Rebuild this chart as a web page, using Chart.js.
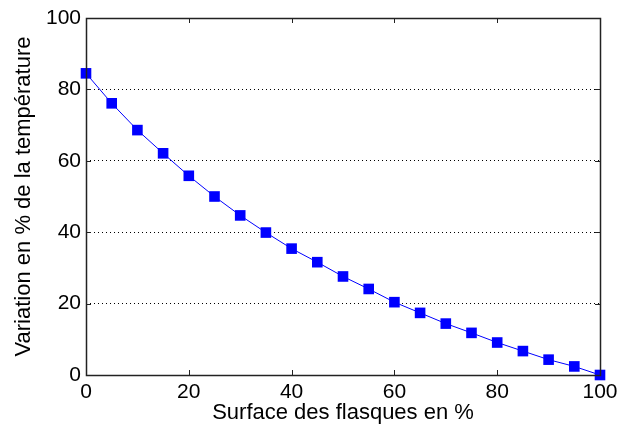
<!DOCTYPE html>
<html lang="fr">
<head>
    <meta charset="UTF-8">
    <title>Variation de la température</title>
    <script src="https://cdn.jsdelivr.net/npm/chart.js"></script>
    <style>
        html, body { margin: 0; padding: 0; background: #fff; }
        .grafico { width: 630px; height: 430px; }
    </style>
</head>
<body>
    <div class="grafico">
        <canvas id="courbe"></canvas>
    </div>

<script>

    // donnees
    var surface = [0, 5, 10, 15, 20, 25, 30, 35, 40, 45, 50, 55, 60, 65, 70, 75, 80, 85, 90, 95, 100];
    var variation = [84.5, 76.1, 68.6, 62.1, 55.8, 50.0, 44.7, 39.9, 35.4, 31.6, 27.6, 24.1, 20.4, 17.4, 14.4, 11.8, 9.1, 6.7, 4.3, 2.4, 0];
    var ticksX = [0, 20, 40, 60, 80, 100];
    var ticksY = [0, 20, 40, 60, 80, 100];

    var points = [];
    for (var i = 0; i < surface.length; i++) {
        points.push({ x: surface[i], y: variation[i] });
    }

    // cadre + petites graduations vers l'interieur (style matlab)
    var cadre = {
        id: 'cadre',
        afterDraw: function (chart) {
            var ctx = chart.ctx;
            var a = chart.chartArea;
            var sx = chart.scales.x;
            var sy = chart.scales.y;
            ctx.save();
            ctx.strokeStyle = '#222';
            ctx.lineWidth = 1;
            ctx.beginPath();
            for (var i = 0; i < ticksX.length; i++) {
                var px = Math.round(sx.getPixelForValue(ticksX[i])) + 0.5;
                ctx.moveTo(px, a.bottom); ctx.lineTo(px, a.bottom - 5);
                ctx.moveTo(px, a.top); ctx.lineTo(px, a.top + 5);
            }
            for (var j = 0; j < ticksY.length; j++) {
                var py = Math.round(sy.getPixelForValue(ticksY[j])) + 0.5;
                ctx.moveTo(a.left, py); ctx.lineTo(a.left + 5, py);
                ctx.moveTo(a.right, py); ctx.lineTo(a.right - 5, py);
            }
            ctx.stroke();
            ctx.lineWidth = 1.5;
            ctx.strokeRect(Math.round(a.left) + 0.5, Math.round(a.top) + 0.5,
                Math.round(a.right - a.left), Math.round(a.bottom - a.top));
            ctx.restore();
        }
    };

    var ctx = document.getElementById('courbe').getContext('2d');
    var myChart = new Chart(ctx, {
        type: 'line',
        data: {
            datasets: [{
                data: points,
                borderColor: '#0000ff',
                borderWidth: 1,
                backgroundColor: '#0000ff',
                pointStyle: 'rect',
                pointRadius: 7.5,
                pointBorderWidth: 0,
                tension: 0,
                clip: false
            }]
        },
        plugins: [cadre],
        options: {
            responsive: true,
            maintainAspectRatio: false,
            animation: false,
            layout: {
                padding: { top: 18, right: 30, left: 0, bottom: 0 }
            },
            plugins: {
                legend: { display: false },
                tooltip: { enabled: false }
            },
            scales: {
                x: {
                    type: 'linear',
                    min: 0,
                    max: 100,
                    afterBuildTicks: function (scale) {
                        scale.ticks = ticksX.map(function (v) { return { value: v }; });
                    },
                    afterFit: function (scale) { scale.height = 55; },
                    grid: { display: false },
                    border: { display: false },
                    ticks: {
                        color: '#000',
                        padding: -3,
                        maxRotation: 0,
                        font: { family: 'Liberation Sans', size: 21 }
                    },
                    title: {
                        display: true,
                        text: 'Surface des flasques en %',
                        color: '#000',
                        padding: { top: 0, bottom: 4 },
                        font: { family: 'Liberation Sans', size: 22 }
                    }
                },
                y: {
                    min: 0,
                    max: 100,
                    afterBuildTicks: function (scale) {
                        scale.ticks = ticksY.map(function (v) { return { value: v }; });
                    },
                    afterFit: function (scale) { scale.width = 86; },
                    grid: {
                        drawTicks: false,
                        lineWidth: 1,
                        color: function (c) {
                            var v = c.tick ? c.tick.value : 0;
                            return (v === 0 || v === 100) ? 'rgba(0,0,0,0)' : '#000';
                        }
                    },
                    border: { display: false, dash: [1, 3] },
                    ticks: {
                        color: '#000',
                        padding: 5,
                        font: { family: 'Liberation Sans', size: 21 }
                    },
                    title: {
                        display: true,
                        text: 'Variation en % de la température',
                        color: '#000',
                        padding: { top: 11, bottom: 0 },
                        font: { family: 'Liberation Sans', size: 22 }
                    }
                }
            }
        }
    });

</script>
</body>
</html>
